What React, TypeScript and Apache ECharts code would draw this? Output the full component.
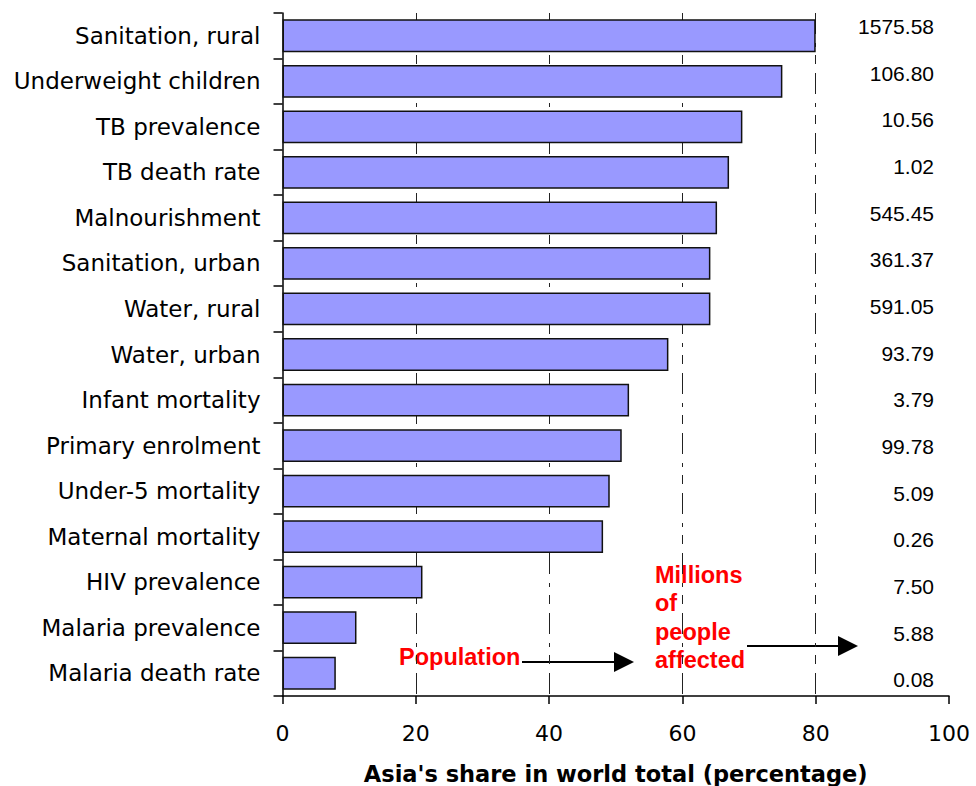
import React, { useEffect, useRef } from "react";
import * as echarts from "echarts";

const categories = [
  "Sanitation, rural",
  "Underweight children",
  "TB prevalence",
  "TB death rate",
  "Malnourishment",
  "Sanitation, urban",
  "Water, rural",
  "Water, urban",
  "Infant mortality",
  "Primary enrolment",
  "Under-5 mortality",
  "Maternal mortality",
  "HIV prevalence",
  "Malaria prevalence",
  "Malaria death rate",
];

const asiaShare = [80, 75, 69, 67, 65.2, 64.2, 64.2, 57.9, 52, 50.9, 49.1, 48.1, 21, 11.1, 8];

const millionsAffected = [
  "1575.58", "106.80", "10.56", "1.02", "545.45", "361.37", "591.05", "93.79",
  "3.79", "99.78", "5.09", "0.26", "7.50", "5.88", "0.08",
];

const xTicks = { min: 0, max: 100, interval: 20 };

const FONT = "'Liberation Sans', Arial, sans-serif";
const WIDE = "'DejaVu Sans', 'Liberation Sans', sans-serif";

export default function App() {
  const ref = useRef<HTMLDivElement>(null);
  useEffect(() => {
    document.body.style.margin = "0";
    const chart = echarts.init(ref.current!, undefined, { renderer: "svg" });
    chart.setOption({
      animation: false,
      backgroundColor: "#ffffff",
      textStyle: { fontFamily: FONT },
      grid: [
        { left: 282.5, right: 27, top: 13, bottom: 90, containLabel: false, outerBoundsMode: "none" },
        { left: 934, right: 28, top: 3, bottom: 83, containLabel: false, outerBoundsMode: "none" },
      ],
      xAxis: [
        {
          gridIndex: 0,
          type: "value",
          min: xTicks.min,
          max: xTicks.max,
          interval: xTicks.interval,
          axisLine: { show: true, lineStyle: { color: "#000", width: 1.5 } },
          axisTick: { show: true, inside: false, length: 8, lineStyle: { color: "#000", width: 1.5 } },
          axisLabel: { color: "#000", fontSize: 22, margin: 26, fontFamily: WIDE },
          splitLine: {
            show: true,
            showMinLine: false,
            showMaxLine: false,
            lineStyle: { color: "#222", width: 1, type: [21, 9, 4, 8, 9, 9] },
          },
          name: "Asia's share in world total (percentage)",
          nameLocation: "middle",
          nameGap: 66,
          nameTextStyle: {
            color: "#000",
            fontSize: 22.5,
            lineHeight: 24,
            fontWeight: "bold",
            fontFamily: WIDE,
          },
        },
        {
          gridIndex: 1,
          type: "value",
          show: false,
        },
      ],
      yAxis: [
        {
          gridIndex: 0,
          type: "category",
          data: categories,
          inverse: true,
          axisLine: { show: true, lineStyle: { color: "#000", width: 1.5 } },
          axisTick: { show: true, inside: false, length: 9, lineStyle: { color: "#000", width: 1.5 } },
          axisLabel: { color: "#000", fontSize: 23, margin: 22, fontFamily: WIDE },
          splitLine: { show: false },
        },
        {
          gridIndex: 1,
          type: "category",
          data: millionsAffected,
          inverse: true,
          position: "left",
          axisLine: { show: false },
          axisTick: { show: false },
          axisLabel: { color: "#000", fontSize: 21, margin: 0, fontFamily: FONT },
          splitLine: { show: false },
        },
      ],
      series: [
        {
          type: "bar",
          xAxisIndex: 0,
          yAxisIndex: 0,
          data: asiaShare,
          barCategoryGap: "28%",
          itemStyle: { color: "#9999FF", borderColor: "#111", borderWidth: 1.5 },
          z: 3,
        },
      ],
      graphic: [
        {
          type: "text",
          x: 399,
          y: 657,
          style: {
            text: "Population",
            fill: "#FF0000",
            font: `bold 23.5px ${FONT}`,
            verticalAlign: "middle",
          },
        },
        {
          type: "line",
          shape: { x1: 522, y1: 662, x2: 618, y2: 662 },
          style: { stroke: "#000", lineWidth: 2 },
        },
        {
          type: "polygon",
          shape: { points: [[614, 652], [634, 662], [614, 672]] },
          style: { fill: "#000" },
        },
        {
          type: "text",
          x: 655,
          y: 561,
          style: {
            text: "Millions\nof\npeople\naffected",
            fill: "#FF0000",
            font: `bold 23.5px ${FONT}`,
            lineHeight: 28.3,
            verticalAlign: "top",
          },
        },
        {
          type: "line",
          shape: { x1: 747, y1: 646, x2: 842, y2: 646 },
          style: { stroke: "#000", lineWidth: 2 },
        },
        {
          type: "polygon",
          shape: { points: [[838, 636], [858, 646], [838, 656]] },
          style: { fill: "#000" },
        },
      ],
    });
    return () => chart.dispose();
  }, []);
  return <div ref={ref} style={{ width: 976, height: 786 }} />;
}
